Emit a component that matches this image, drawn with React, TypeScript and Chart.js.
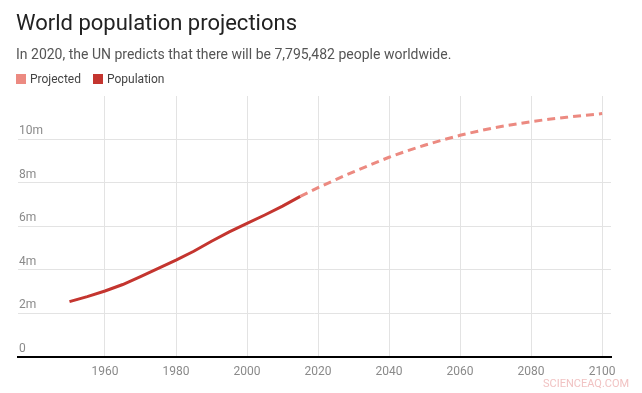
import React, { useEffect, useRef } from "react";
import { Chart, registerables } from "chart.js";

Chart.register(...registerables);

const popYears = [1950, 1955, 1960, 1965, 1970, 1975, 1980, 1985, 1990, 1995, 2000, 2005, 2010, 2015];
const popValues = [2.53, 2.76, 3.02, 3.32, 3.68, 4.06, 4.44, 4.85, 5.31, 5.74, 6.13, 6.52, 6.93, 7.38];

const projYears = [2015, 2020, 2025, 2030, 2035, 2040, 2045, 2050, 2055, 2060, 2065, 2070, 2075, 2080, 2085, 2090, 2095, 2100];
const projValues = [7.38, 7.78, 8.15, 8.51, 8.85, 9.18, 9.47, 9.73, 9.97, 10.19, 10.38, 10.55, 10.69, 10.82, 10.93, 11.02, 11.11, 11.19];

const xTicks = [1960, 1980, 2000, 2020, 2040, 2060, 2080, 2100];
const yTicks = [0, 2, 4, 6, 8, 10];
const yTickLabels = ["0", "2m", "4m", "6m", "8m", "10m"];

const POP_COLOR = "#c4352f";
const PROJ_COLOR = "#ec8a81";
const FONT = "Roboto, 'Noto Sans', sans-serif";

export default function App() {
  const ref = useRef<HTMLCanvasElement | null>(null);

  useEffect(() => {
    if (!ref.current) return;
    const chart = new Chart(ref.current, {
      type: "line",
      data: {
        datasets: [
          {
            label: "Projected",
            data: projYears.map((x, i) => ({ x, y: projValues[i] })),
            borderColor: PROJ_COLOR,
            backgroundColor: PROJ_COLOR,
            borderWidth: 3,
            borderDash: [8, 5],
            pointRadius: 0,
            tension: 0,
          },
          {
            label: "Population",
            data: popYears.map((x, i) => ({ x, y: popValues[i] })),
            borderColor: POP_COLOR,
            backgroundColor: POP_COLOR,
            borderWidth: 3,
            pointRadius: 0,
            tension: 0,
          },
        ],
      },
      options: {
        responsive: false,
        animation: false,
        devicePixelRatio: 1,
        layout: { padding: { left: 16, right: 31, top: 96, bottom: 6 } },
        plugins: { legend: { display: false }, tooltip: { enabled: false } },
        scales: {
          x: {
            type: "linear",
            min: 1935.5,
            max: 2102.5,
            afterBuildTicks: (scale: any) => {
              scale.ticks = xTicks.map((v) => ({ value: v }));
            },
            grid: { color: "#e3e3e3", lineWidth: 1, drawTicks: false },
            border: { display: true, color: "#000000", width: 2 },
            ticks: {
              padding: 8,
              color: "#8a8a8a",
              font: { family: FONT, size: 12 },
              maxRotation: 0,
              autoSkip: false,
              callback: (v: any) => String(v),
            },
          },
          y: {
            type: "linear",
            min: 0,
            max: 12,
            afterBuildTicks: (scale: any) => {
              scale.ticks = yTicks.map((v) => ({ value: v }));
            },
            grid: { color: "#e3e3e3", lineWidth: 1, drawTicks: false },
            border: { display: false },
            ticks: {
              mirror: true,
              padding: 1,
              labelOffset: -8,
              color: "#8a8a8a",
              font: { family: FONT, size: 12 },
              callback: (v: any) => {
                const i = yTicks.indexOf(Number(v));
                return i >= 0 ? yTickLabels[i] : "";
              },
            },
          },
        },
      },
    });
    return () => chart.destroy();
  }, []);

  const sq = (c: string): React.CSSProperties => ({
    position: "absolute",
    width: 10,
    height: 10,
    background: c,
    top: 74,
  });

  return (
    <div
      style={{
        position: "fixed",
        left: 0,
        top: 0,
        width: 642,
        height: 393,
        background: "#ffffff",
        fontFamily: FONT,
        overflow: "hidden",
      }}
    >
      <canvas ref={ref} width={642} height={393} style={{ position: "absolute", left: 0, top: 0, width: 642, height: 393 }} />
      <div style={{ position: "absolute", left: 16, top: 10, fontSize: 22, color: "#222222", lineHeight: "normal", whiteSpace: "nowrap" }}>
        World population projections
      </div>
      <div style={{ position: "absolute", left: 16, top: 46, fontSize: 14, color: "#555555", lineHeight: "normal", whiteSpace: "nowrap" }}>
        In 2020, the UN predicts that there will be 7,795,482 people worldwide.
      </div>
      <div style={{ ...sq(PROJ_COLOR), left: 16 }} />
      <div style={{ position: "absolute", left: 30, top: 72, fontSize: 12, color: "#444444", lineHeight: "normal", whiteSpace: "nowrap" }}>
        Projected
      </div>
      <div style={{ ...sq(POP_COLOR), left: 93 }} />
      <div style={{ position: "absolute", left: 107, top: 72, fontSize: 12, color: "#444444", lineHeight: "normal", whiteSpace: "nowrap" }}>
        Population
      </div>
      <div style={{ position: "absolute", left: 543, top: 377, fontSize: 11, color: "#f1c3c3", lineHeight: "normal", whiteSpace: "nowrap" }}>
        SCIENCEAQ.COM
      </div>
    </div>
  );
}
